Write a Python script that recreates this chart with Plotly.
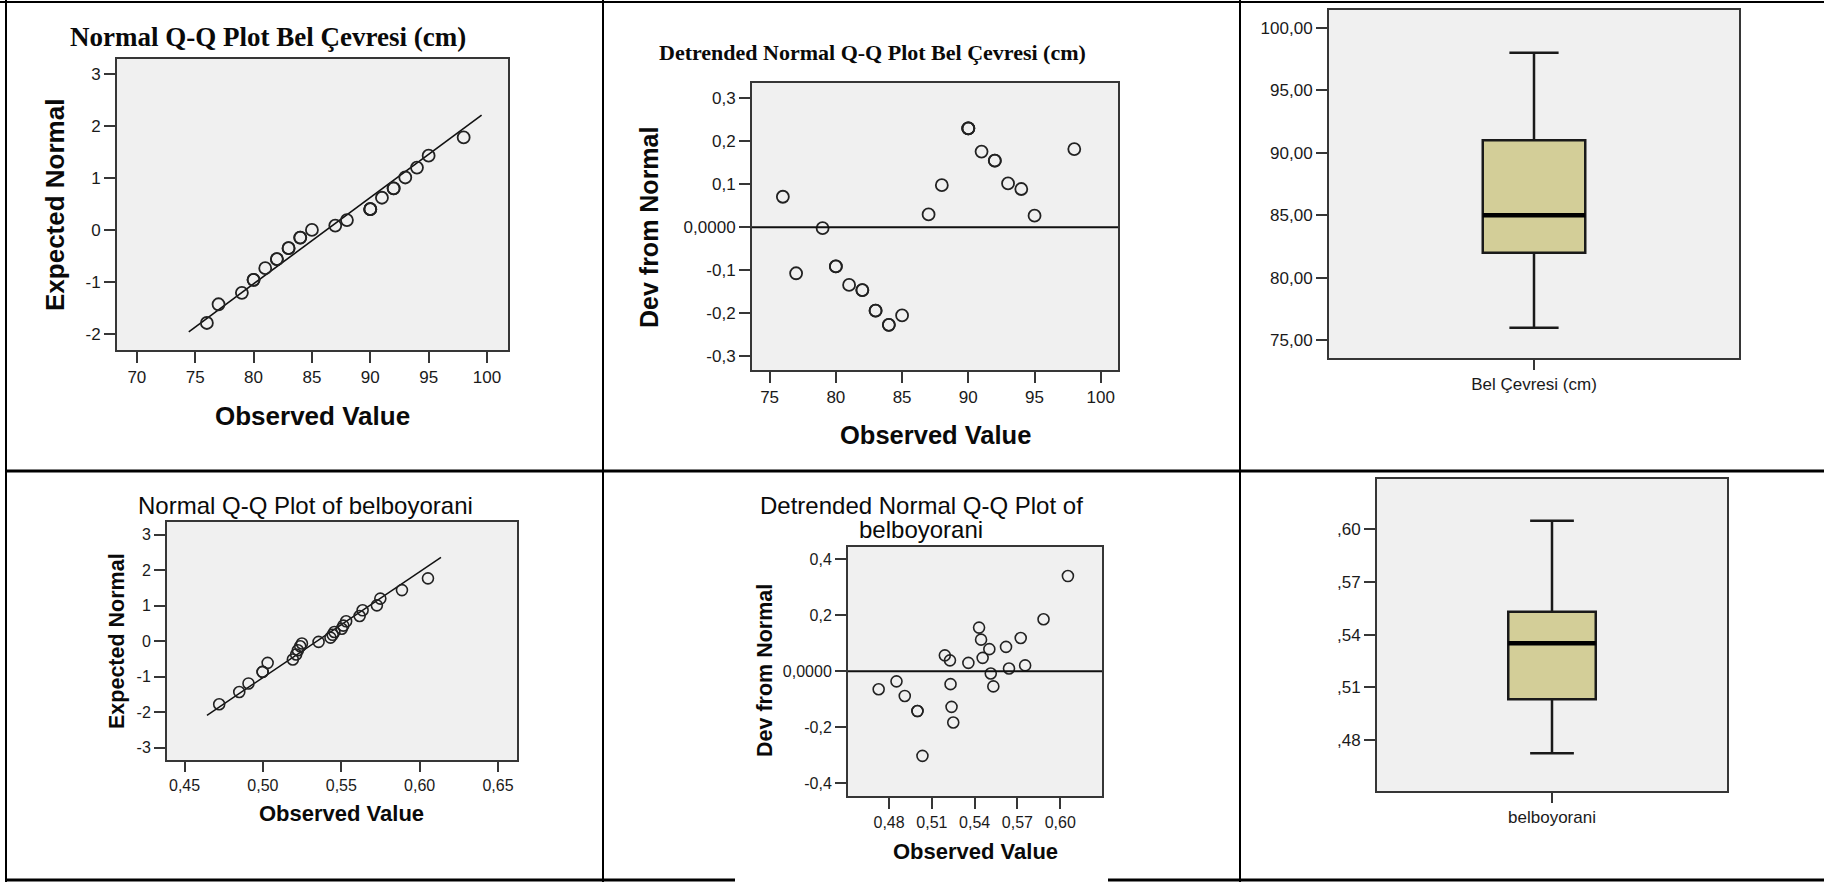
import plotly.graph_objects as go

W, H = 1824, 882

# ---------------- data ----------------
# Panel 1: Normal Q-Q plot, Bel Çevresi (cm)
qq1_obs = [76, 77, 79, 80, 80, 81, 82, 82, 83, 83, 84, 84, 85, 87, 88, 90, 90, 90, 91, 92, 92, 93, 94, 95, 98]
qq1_exp = [-1.79, -1.43, -1.21, -0.96, -0.96, -0.735, -0.56, -0.56, -0.35, -0.35, -0.147, -0.147, 0.0,
           0.085, 0.19, 0.40, 0.40, 0.40, 0.62, 0.80, 0.80, 1.01, 1.20, 1.43, 1.78]
qq1_line_x = [74.45, 99.54]
qq1_line_y = [-1.96, 2.21]

# Panel 2: Detrended Normal Q-Q plot, Bel Çevresi (cm)
dt1_obs = [76, 77, 79, 80, 80, 81, 82, 82, 83, 83, 84, 84, 85, 87, 88, 90, 90, 90, 91, 92, 92, 93, 94, 95, 98]
dt1_dev = [0.071, -0.107, -0.002, -0.091, -0.091, -0.134, -0.146, -0.146, -0.194, -0.194, -0.227, -0.227,
           -0.205, 0.030, 0.098, 0.230, 0.230, 0.230, 0.176, 0.155, 0.155, 0.102, 0.089, 0.027, 0.182]

# Panel 3: Boxplot, Bel Çevresi (cm)
box1_label = ["Bel Çevresi (cm)"]
box1_q1 = [82.0]
box1_median = [85.0]
box1_q3 = [91.0]
box1_low = [76.0]
box1_high = [98.0]

# Panel 4: Normal Q-Q plot of belboyorani
qq2_obs = [0.4721, 0.4849, 0.4908, 0.4998, 0.4998, 0.5030, 0.5191, 0.5212, 0.5223, 0.5238, 0.5249, 0.5355,
           0.5431, 0.5445, 0.5456, 0.5503, 0.5513, 0.5531, 0.5617, 0.5636, 0.5727, 0.5749, 0.5887, 0.6053]
qq2_exp = [-1.777, -1.43, -1.19, -0.865, -0.865, -0.61, -0.517, -0.376, -0.254, -0.141, -0.066, -0.02,
           0.10, 0.18, 0.26, 0.35, 0.44, 0.56, 0.71, 0.87, 1.01, 1.20, 1.44, 1.77]
qq2_line_x = [0.4643, 0.6136]
qq2_line_y = [-2.087, 2.36]

# Panel 5: Detrended Normal Q-Q plot of belboyorani
dt2_obs = [0.4727, 0.4852, 0.4910, 0.4999, 0.4999, 0.5034, 0.5191, 0.5227, 0.5231, 0.5238, 0.5250, 0.5356,
           0.5431, 0.5445, 0.5456, 0.5503, 0.5513, 0.5531, 0.5620, 0.5641, 0.5723, 0.5754, 0.5883, 0.6054]
dt2_dev = [-0.064, -0.036, -0.088, -0.142, -0.142, -0.302, 0.057, 0.039, -0.046, -0.127, -0.183, 0.030,
           0.156, 0.113, 0.048, 0.079, -0.008, -0.054, 0.087, 0.010, 0.119, 0.021, 0.186, 0.340]

# Panel 6: Boxplot, belboyorani
box2_label = ["belboyorani"]
box2_q1 = [0.5032]
box2_median = [0.5351]
box2_q3 = [0.5531]
box2_low = [0.4725]
box2_high = [0.6049]

# tick labels
p1_xticks = [70, 75, 80, 85, 90, 95, 100]
p1_xtext = ["70", "75", "80", "85", "90", "95", "100"]
p1_yticks = [-2, -1, 0, 1, 2, 3]
p1_ytext = ["-2", "-1", "0", "1", "2", "3"]
p2_xticks = [75, 80, 85, 90, 95, 100]
p2_xtext = ["75", "80", "85", "90", "95", "100"]
p2_yticks = [-0.3, -0.2, -0.1, 0.0, 0.1, 0.2, 0.3]
p2_ytext = ["-0,3", "-0,2", "-0,1", "0,0000", "0,1", "0,2", "0,3"]
p3_yticks = [75, 80, 85, 90, 95, 100]
p3_ytext = ["75,00", "80,00", "85,00", "90,00", "95,00", "100,00"]
p4_xticks = [0.45, 0.50, 0.55, 0.60, 0.65]
p4_xtext = ["0,45", "0,50", "0,55", "0,60", "0,65"]
p4_yticks = [-3, -2, -1, 0, 1, 2, 3]
p4_ytext = ["-3", "-2", "-1", "0", "1", "2", "3"]
p5_xticks = [0.48, 0.51, 0.54, 0.57, 0.60]
p5_xtext = ["0,48", "0,51", "0,54", "0,57", "0,60"]
p5_yticks = [-0.4, -0.2, 0.0, 0.2, 0.4]
p5_ytext = ["-0,4", "-0,2", "0,0000", "0,2", "0,4"]
p6_yticks = [0.48, 0.51, 0.54, 0.57, 0.60]
p6_ytext = [",48", ",51", ",54", ",57", ",60"]

# ---------------- layout helpers ----------------
SANS = "Liberation Sans, Arial, sans-serif"
SERIF = "Liberation Serif, Times New Roman, serif"
FRAME = "#363636"
TXT = "#1a1a1a"


def fx(px):
    return px / W


def fy(py):
    return 1 - py / H


def xdom(x0, x1):
    return [fx(x0), fx(x1)]


def ydom(y0, y1):
    return [fy(y1), fy(y0)]


def axis_style(fontsize):
    return dict(showline=True, mirror=True, linecolor=FRAME, linewidth=2,
                ticks="outside", ticklen=11, tickwidth=2, tickcolor=FRAME,
                showgrid=False, zeroline=False, fixedrange=True,
                tickfont=dict(family=SANS, size=fontsize, color=TXT))


fig = go.Figure()

marker_style = dict(symbol="circle-open", size=12, color="#222", line=dict(width=1.8, color="#222"))
marker_small = dict(symbol="circle-open", size=11, color="#222", line=dict(width=1.6, color="#222"))

# Panel 1
fig.add_trace(go.Scatter(x=qq1_line_x, y=qq1_line_y, mode="lines", line=dict(color="#111", width=1.6),
                         xaxis="x", yaxis="y", hoverinfo="skip"))
fig.add_trace(go.Scatter(x=qq1_obs, y=qq1_exp, mode="markers", marker=marker_style, xaxis="x", yaxis="y"))
# Panel 2
fig.add_trace(go.Scatter(x=dt1_obs, y=dt1_dev, mode="markers", marker=marker_style, xaxis="x2", yaxis="y2"))
# Panel 3
fig.add_trace(go.Box(x=box1_label, q1=box1_q1, median=box1_median, q3=box1_q3,
                     lowerfence=box1_low, upperfence=box1_high, orientation="v",
                     width=0.25, whiskerwidth=0.48, fillcolor="#D3CE98",
                     line=dict(color="#1a1a1a", width=2.5), boxpoints=False,
                     xaxis="x3", yaxis="y3"))
# Panel 4
fig.add_trace(go.Scatter(x=qq2_line_x, y=qq2_line_y, mode="lines", line=dict(color="#111", width=1.5),
                         xaxis="x4", yaxis="y4", hoverinfo="skip"))
fig.add_trace(go.Scatter(x=qq2_obs, y=qq2_exp, mode="markers", marker=marker_small, xaxis="x4", yaxis="y4"))
# Panel 5
fig.add_trace(go.Scatter(x=dt2_obs, y=dt2_dev, mode="markers", marker=marker_small, xaxis="x5", yaxis="y5"))
# Panel 6
fig.add_trace(go.Box(x=box2_label, q1=box2_q1, median=box2_median, q3=box2_q3,
                     lowerfence=box2_low, upperfence=box2_high, orientation="v",
                     width=0.25, whiskerwidth=0.5, fillcolor="#D3CE98",
                     line=dict(color="#1a1a1a", width=2.5), boxpoints=False,
                     xaxis="x6", yaxis="y6"))

layout = dict(
    width=W, height=H, autosize=False, margin=dict(l=0, r=0, t=0, b=0, pad=0),
    paper_bgcolor="white", plot_bgcolor="#F0F0F0", showlegend=False,
)

# Panel 1 axes
layout["xaxis"] = dict(axis_style(17), domain=xdom(117, 508), range=[68.3, 101.8],
                       tickvals=p1_xticks, ticktext=p1_xtext, anchor="y")
layout["yaxis"] = dict(axis_style(17), domain=ydom(59, 350), range=[-2.31, 3.29],
                       tickvals=p1_yticks, ticktext=p1_ytext, anchor="x")
# Panel 2 axes
layout["xaxis2"] = dict(axis_style(17), domain=xdom(752, 1118), range=[73.67, 101.3],
                        tickvals=p2_xticks, ticktext=p2_xtext, anchor="y2")
layout["yaxis2"] = dict(axis_style(17), domain=ydom(83, 370), range=[-0.332, 0.3356],
                        tickvals=p2_yticks, ticktext=p2_ytext, anchor="x2")
# Panel 3 axes
layout["xaxis3"] = dict(axis_style(17), domain=xdom(1329, 1739), type="category", range=[-0.5, 0.5],
                        anchor="y3", ticklen=10)
layout["yaxis3"] = dict(axis_style(17), domain=ydom(10, 358), range=[73.58, 101.42],
                        tickvals=p3_yticks, ticktext=p3_ytext, anchor="x3")
# Panel 4 axes
layout["xaxis4"] = dict(axis_style(16), domain=xdom(167, 517), range=[0.4388, 0.6621],
                        tickvals=p4_xticks, ticktext=p4_xtext, anchor="y4", ticklen=10)
layout["yaxis4"] = dict(axis_style(16), domain=ydom(522, 760), range=[-3.347, 3.358],
                        tickvals=p4_yticks, ticktext=p4_ytext, anchor="x4")
# Panel 5 axes
layout["xaxis5"] = dict(axis_style(16), domain=xdom(848, 1102), range=[0.4512, 0.6293],
                        tickvals=p5_xticks, ticktext=p5_xtext, anchor="y5")
layout["yaxis5"] = dict(axis_style(16), domain=ydom(547, 796), range=[-0.4453, 0.4438],
                        tickvals=p5_yticks, ticktext=p5_ytext, anchor="x5")
# Panel 6 axes
layout["xaxis6"] = dict(axis_style(17), domain=xdom(1377, 1727), type="category", range=[-0.5, 0.5],
                        anchor="y6", ticklen=10)
layout["yaxis6"] = dict(axis_style(17), domain=ydom(479, 791), range=[0.4510, 0.6287],
                        tickvals=p6_yticks, ticktext=p6_ytext, anchor="x6")

fig.update_layout(**layout)

# zero reference lines + thick medians
shapes = [
    dict(type="line", xref="x2 domain", yref="y2", x0=0, x1=1, y0=0, y1=0, line=dict(color="#111", width=2)),
    dict(type="line", xref="x5 domain", yref="y5", x0=0, x1=1, y0=0, y1=0, line=dict(color="#111", width=2)),
    dict(type="line", xref="x3", yref="y3", x0=-0.125, x1=0.125, y0=box1_median[0], y1=box1_median[0],
         line=dict(color="#000", width=4.5)),
    dict(type="line", xref="x6", yref="y6", x0=-0.125, x1=0.125, y0=box2_median[0], y1=box2_median[0],
         line=dict(color="#000", width=4.5)),
]


# table borders (paper coordinates from pixels)
def hline(y, x0, x1, w=2):
    return dict(type="line", xref="paper", yref="paper", x0=fx(x0), x1=fx(x1), y0=fy(y), y1=fy(y),
                line=dict(color="#000", width=w))


def vline(x, y0, y1, w=2):
    return dict(type="line", xref="paper", yref="paper", x0=fx(x), x1=fx(x), y0=fy(y0), y1=fy(y1),
                line=dict(color="#000", width=w))


shapes += [
    hline(2, 0, 1824, 2),
    hline(471, 6, 1824, 3),
    hline(880, 6, 735, 3),
    hline(880, 1108, 1824, 3),
    vline(6, 0, 882, 2),
    vline(603, 0, 882, 2),
    vline(1240, 0, 882, 2),
]
fig.update_layout(shapes=shapes)


def ann(text, x, y, size, family=SANS, bold=False, angle=0):
    t = f"<b>{text}</b>" if bold else text
    return dict(text=t, x=fx(x), y=fy(y), xref="paper", yref="paper", showarrow=False,
                xanchor="center", yanchor="middle", textangle=angle,
                font=dict(family=family, size=size, color="#0a0a0a"))


annotations = [
    ann("Normal Q-Q Plot Bel Çevresi (cm)", 268, 37, 27, SERIF, True),
    ann("Expected Normal", 55, 205, 26, SANS, True, -90),
    ann("Observed Value", 312, 416, 26, SANS, True),
    ann("Detrended Normal Q-Q Plot Bel Çevresi (cm)", 872, 52, 22, SERIF, True),
    ann("Dev from Normal", 649, 228, 25, SANS, True, -90),
    ann("Observed Value", 935, 435, 25.5, SANS, True),
    ann("Normal Q-Q Plot of belboyorani", 305, 505, 24),
    ann("Expected Normal", 117, 641, 21.5, SANS, True, -90),
    ann("Observed Value", 341, 813, 22, SANS, True),
    ann("Detrended Normal Q-Q Plot of", 921, 505, 24),
    ann("belboyorani", 921, 529, 24),
    ann("Dev from Normal", 765, 671, 21.5, SANS, True, -90),
    ann("Observed Value", 975, 851, 22, SANS, True),
]
fig.update_layout(annotations=annotations)

fig.write_html("out.html", config={"displayModeBar": False})
